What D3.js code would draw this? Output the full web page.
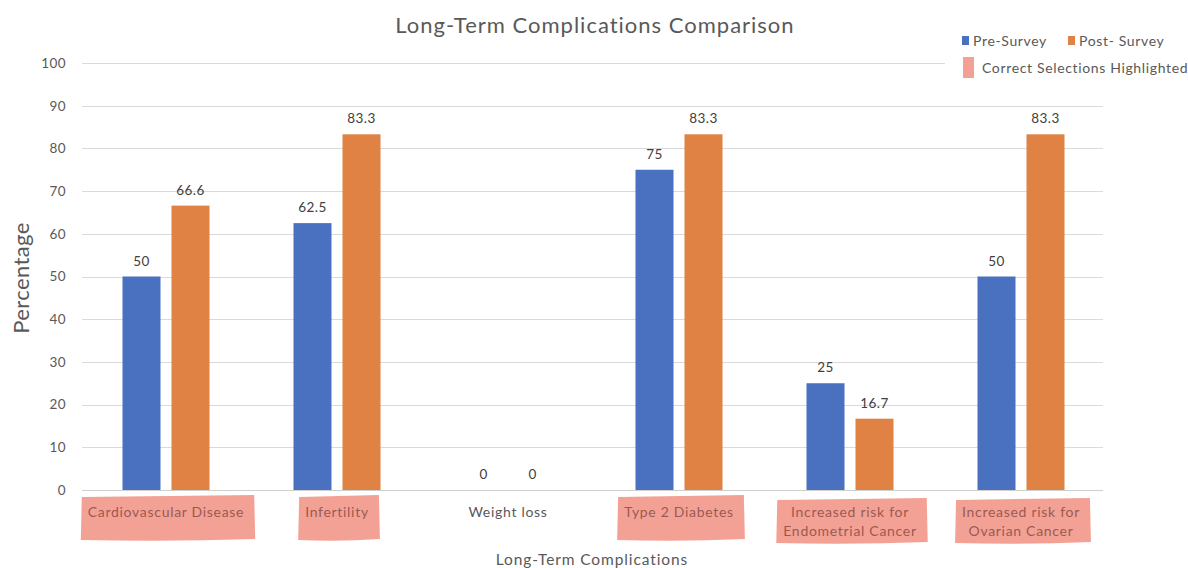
<!DOCTYPE html>
<html>
<head>
<meta charset="utf-8">
<script src="https://cdn.jsdelivr.net/npm/d3@7"></script>
<style>
  body { margin: 0; background: #fff; }
  text { font-family: Lato, "Open Sans", sans-serif; }
</style>
</head>
<body>
<div id="chart"></div>
<script>
// chart data
const categories = ['Cardiovascular Disease', 'Infertility', 'Weight loss', 'Type 2 Diabetes',
    'Increased risk for\nEndometrial Cancer', 'Increased risk for\nOvarian Cancer'];
const correct = [true, true, false, true, true, true];
const seriesNames = ['Pre-Survey', 'Post- Survey'];
const preSurvey = [50, 62.5, 0, 75, 25, 50];
const postSurvey = [66.6, 83.3, 0, 83.3, 16.7, 83.3];
const yTicks = [0, 10, 20, 30, 40, 50, 60, 70, 80, 90, 100];

const width = 1188, height = 568;
const margin = { left: 80.5, right: 1106.5, top: 63, bottom: 490 };
const colors = ['#4a70c0', '#df8243'];
const highlight = '#f4a195';

const svg = d3.select('#chart').append('svg')
    .attr('width', width)
    .attr('height', height);

const y = d3.scaleLinear().domain([0, 100]).range([margin.bottom, margin.top]);
const x0 = d3.scaleBand().domain(d3.range(categories.length))
    .range([margin.left, margin.right]);
const x1 = d3.scaleBand().domain(seriesNames)
    .range([0, x0.bandwidth()])
    .paddingInner(0.2245)
    .paddingOuter(0.857);

// gridlines
svg.append('g')
    .selectAll('line')
    .data(yTicks)
    .join('line')
    .attr('x1', 82)
    .attr('x2', 1103)
    .attr('y1', d => Math.round(y(d)) + 0.5)
    .attr('y2', d => Math.round(y(d)) + 0.5)
    .attr('stroke', d => d === 0 ? '#cfcfcf' : '#dadada')
    .attr('stroke-width', 1);

// y axis labels
const yAxis = d3.axisLeft(y).tickValues(yTicks).tickSize(0).tickPadding(0);
svg.append('g')
    .attr('transform', 'translate(66,0)')
    .call(yAxis)
    .call(g => g.select('.domain').remove())
    .call(g => g.selectAll('text')
        .attr('fill', '#595959')
        .attr('font-size', 13.5)
        .attr('letter-spacing', 0.4)
        .attr('font-family', 'Lato, sans-serif'));

// bars
const rows = categories.map((c, i) => ({ i, values: [preSurvey[i], postSurvey[i]] }));
const groups = svg.append('g')
    .selectAll('g')
    .data(rows)
    .join('g')
    .attr('transform', d => `translate(${x0(d.i)},0)`);

groups.selectAll('rect')
    .data(d => d.values.map((v, k) => ({ v, k })))
    .join('rect')
    .attr('x', d => x1(seriesNames[d.k]))
    .attr('width', x1.bandwidth())
    .attr('y', d => y(d.v))
    .attr('height', d => y(0) - y(d.v))
    .attr('fill', d => colors[d.k]);

groups.selectAll('text.val')
    .data(d => d.values.map((v, k) => ({ v, k })))
    .join('text')
    .attr('class', 'val')
    .attr('x', d => x1(seriesNames[d.k]) + x1.bandwidth() / 2)
    .attr('y', d => y(d.v) - 11)
    .attr('text-anchor', 'middle')
    .attr('font-size', 13.5)
    .attr('letter-spacing', 0.4)
    .attr('fill', '#404040')
    .text(d => d.v);

// category labels with highlight boxes
const labelLayer = svg.append('g');
categories.forEach((c, i) => {
    const cx = x0(i) + x0.bandwidth() / 2;
    const lines = c.split('\n');
    const g = labelLayer.append('g');
    const box = g.append('path');
    const t = g.append('text')
        .attr('text-anchor', 'middle')
        .attr('font-size', 14)
        .attr('letter-spacing', 0.7)
        .attr('fill', correct[i] ? '#9a5a53' : '#595959');
    lines.forEach((ln, j) => {
        t.append('tspan')
            .attr('x', cx)
            .attr('y', 517 + j * 19)
            .text(ln);
    });
    if (correct[i]) {
        const bb = t.node().getBBox();
        const x0b = bb.x - 6, x1b = bb.x + bb.width + 10;
        const top = lines.length > 1 ? 499 : 496;
        const bot = top + 44;
        // slightly uneven, hand-drawn looking box
        box.attr('d', `M${x0b},${top + 1} L${x1b},${top - 1} L${x1b + 1},${bot - 1} ` +
                `Q${(x0b + x1b) / 2},${bot + 2} ${x0b - 1},${bot} Z`)
            .attr('fill', highlight);
    }
});

// axis titles
svg.append('text')
    .attr('x', 592)
    .attr('y', 565)
    .attr('text-anchor', 'middle')
    .attr('font-size', 15.5)
    .attr('letter-spacing', 0.9)
    .attr('fill', '#595959')
    .text('Long-Term Complications');

svg.append('text')
    .attr('transform', 'translate(29,278) rotate(-90)')
    .attr('text-anchor', 'middle')
    .attr('font-size', 22)
    .attr('letter-spacing', 0.4)
    .attr('fill', '#595959')
    .text('Percentage');

// title
svg.append('text')
    .attr('x', 595)
    .attr('y', 33)
    .attr('text-anchor', 'middle')
    .attr('font-size', 22)
    .attr('letter-spacing', 1)
    .attr('fill', '#595959')
    .text('Long-Term Complications Comparison');

// legend
const legend = svg.append('g');
legend.append('rect')
    .attr('x', 945).attr('y', 24)
    .attr('width', 243).attr('height', 62)
    .attr('fill', '#fff');
const legendX = [962, 1068];
seriesNames.forEach((s, k) => {
    legend.append('rect')
        .attr('x', legendX[k]).attr('y', 36)
        .attr('width', 7).attr('height', 9)
        .attr('fill', colors[k]);
    legend.append('text')
        .attr('x', legendX[k] + 11)
        .attr('y', 45.5)
        .attr('font-size', 14)
        .attr('letter-spacing', 0.65)
        .attr('fill', '#595959')
        .text(s);
});
legend.append('rect')
    .attr('x', 963).attr('y', 57)
    .attr('width', 11).attr('height', 21)
    .attr('fill', highlight);
legend.append('text')
    .attr('x', 982)
    .attr('y', 73)
    .attr('font-size', 14)
    .attr('letter-spacing', 0.65)
    .attr('fill', '#595959')
    .text('Correct Selections Highlighted');
</script>
</body>
</html>
